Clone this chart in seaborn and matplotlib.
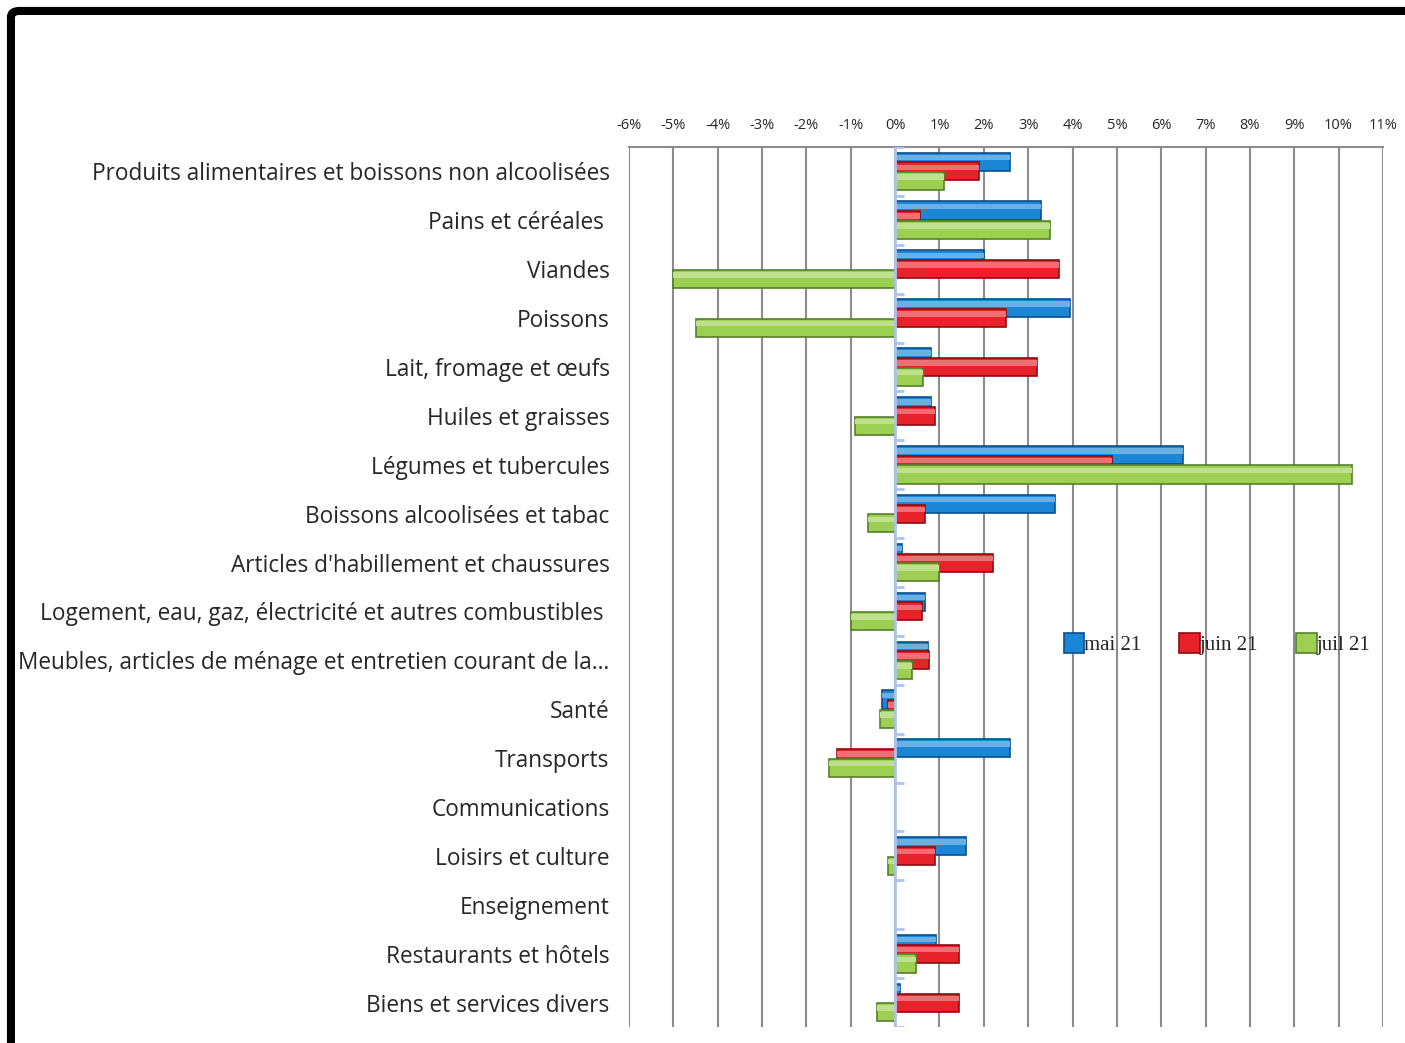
import numpy as np
import pandas as pd
import seaborn as sns
import matplotlib.pyplot as plt
from matplotlib.patches import FancyBboxPatch, Rectangle
from matplotlib.colors import to_rgb

categories = [
    "Produits alimentaires et boissons non alcoolisées",
    "Pains et céréales ",
    "Viandes",
    "Poissons",
    "Lait, fromage et œufs",
    "Huiles et graisses",
    "Légumes et tubercules",
    "Boissons alcoolisées et tabac",
    "Articles d'habillement et chaussures",
    "Logement, eau, gaz, électricité et autres combustibles ",
    "Meubles, articles de ménage et entretien courant de la…",
    "Santé",
    "Transports",
    "Communications",
    "Loisirs et culture",
    "Enseignement",
    "Restaurants et hôtels",
    "Biens et services divers",
]
mai_21 = [2.6, 3.3, 2.0, 3.95, 0.8, 0.8, 6.5, 3.6, 0.15, 0.68, 0.75, -0.3, 2.6, np.nan, 1.6, np.nan, 0.92, 0.12]
juin_21 = [1.9, 0.56, 3.7, 2.5, 3.2, 0.9, 4.9, 0.68, 2.2, 0.6, 0.77, -0.15, -1.3, np.nan, 0.9, np.nan, 1.45, 1.45]
juil_21 = [1.1, 3.5, -5.0, -4.5, 0.63, -0.9, 10.3, -0.6, 1.0, -1.0, 0.38, -0.35, -1.5, np.nan, -0.15, np.nan, 0.47, -0.4]
series = ["mai 21", "juin 21", "juil 21"]
x_ticks = list(range(-6, 12))

colors = {"mai 21": "#1b86d6", "juin 21": "#e8222b", "juil 21": "#9ccf52"}
edges = {"mai 21": "#0b4f8a", "juin 21": "#8f0c10", "juil 21": "#55802a"}
offsets = {"mai 21": -0.2, "juin 21": 0.0, "juil 21": 0.2}

sns.set_style("white")
plt.rcParams["font.family"] = ["Open Sans", "DejaVu Sans"]

fig = plt.figure(figsize=(14.05, 10.43), dpi=100)
ax = fig.add_axes([0.4477, 0.0153, 0.5366, 0.8438])

pos = np.arange(len(categories))
for name, vals in zip(series, [mai_21, juin_21, juil_21]):
    n_before = len(ax.patches)
    df = pd.DataFrame({"val": vals, "pos": pos + offsets[name]}).dropna()
    sns.barplot(data=df, x="val", y="pos", orient="h", native_scale=True,
                width=0.37, color=colors[name], edgecolor=edges[name],
                linewidth=1.2, saturation=1, errorbar=None, ax=ax, label=name)
    # glossy top strip to mimic the bevelled bars
    light = tuple(c + (1 - c) * 0.35 for c in to_rgb(colors[name]))
    for p in list(ax.patches[n_before:]):
        x0, y0 = p.get_x(), p.get_y()
        w, h = p.get_width(), p.get_height()
        ax.add_patch(Rectangle((x0, y0 + h * 0.12), w, h * 0.3, facecolor=light,
                               edgecolor="none", zorder=p.get_zorder() + 0.01))

ax.set_ylim(len(categories) - 0.5, -0.5)
ax.set_xlim(-6, 11)
ax.set_xticks(x_ticks)
ax.set_xticklabels([f"{v}%" for v in x_ticks], fontsize=10.5)
ax.xaxis.tick_top()
ax.tick_params(axis="x", length=0, pad=10)
ax.set_yticks(pos)
ax.set_yticklabels(categories, fontsize=16.3)
ax.tick_params(axis="y", length=0, pad=14)
ax.set_xlabel("")
ax.set_ylabel("")
ax.grid(axis="x", color="#8c8c8c", linewidth=1.5)
ax.set_axisbelow(True)
for s in ["left", "right", "bottom"]:
    ax.spines[s].set_visible(False)
ax.spines["top"].set_color("#8c8c8c")
ax.spines["top"].set_linewidth(1.5)

# vertical category axis at 0
ax.axvline(0, color="#aec4ea", linewidth=2, zorder=5)
ax.hlines(np.arange(-0.5, len(categories)), 0, 0.2, color="#aec4ea", linewidth=2, zorder=5)

ax.legend(loc="center", bbox_to_anchor=(0.78, 0.435), ncol=3, frameon=False,
          prop={"family": "Liberation Serif", "size": 15}, handlelength=1.0,
          handleheight=1.1, handletextpad=0.0, columnspacing=1.8)

border = FancyBboxPatch((0.0078, -0.1), 1.1, 1.0895, boxstyle="round,pad=0,rounding_size=0.006",
                        transform=fig.transFigure, fill=False, edgecolor="black",
                        linewidth=5.8, clip_on=False)
fig.patches.append(border)

fig.savefig("out.png", dpi=100)
